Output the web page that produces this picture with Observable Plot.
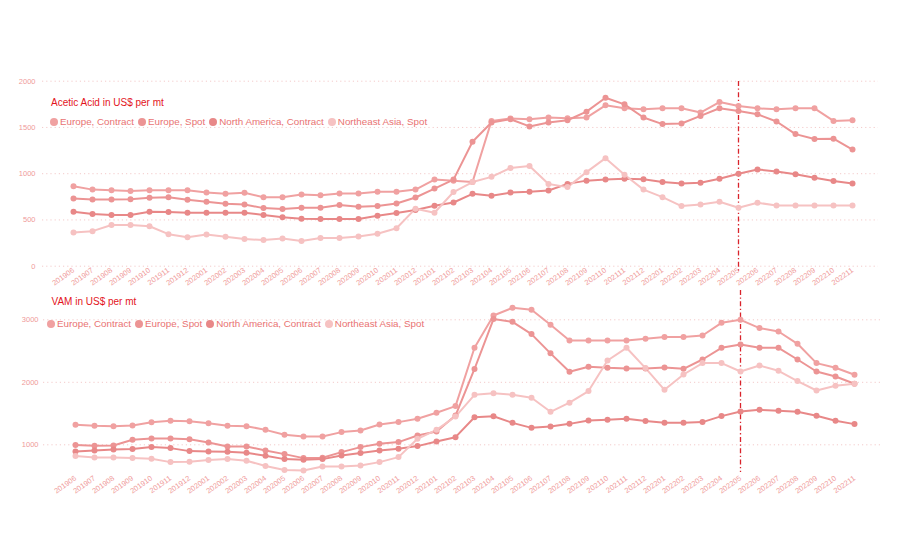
<!DOCTYPE html>
<html>
<head>
<meta charset="utf-8">
<script src="https://cdn.jsdelivr.net/npm/d3@7"></script>
<script src="https://cdn.jsdelivr.net/npm/@observablehq/plot@0.6"></script>
<style>
  body { margin: 0; background: #ffffff; }
  #wrap { position: relative; width: 900px; height: 550px; overflow: hidden; font-family: "Liberation Sans", Arial, sans-serif; }
  .chart { position: absolute; left: 0; }
  .title { position: absolute; font-size: 10px; line-height: 12px; color: #e3141c; white-space: nowrap; }
  .legend { position: absolute; display: flex; align-items: center; font-size: 9.8px; line-height: 12px; color: #e97272; white-space: nowrap; }
  .legend .item { display: flex; align-items: center; margin-right: 4px; }
  .legend .sw { width: 8px; height: 8px; border-radius: 50%; margin-right: 2px; }
</style>
</head>
<body>
<div id="wrap"></div>
<script>
// ---------- data ----------
const months = ["201906","201907","201908","201909","201910","201911","201912",
  "202001","202002","202003","202004","202005","202006","202007","202008","202009","202010","202011","202012",
  "202101","202102","202103","202104","202105","202106","202107","202108","202109","202110","202111","202112",
  "202201","202202","202203","202204","202205","202206","202207","202208","202209","202210","202211"];

const seriesNames = ["Europe, Contract", "Europe, Spot", "North America, Contract", "Northeast Asia, Spot"];
const seriesColors = ["#f0a1a1", "#ec9494", "#e88888", "#f6c2c2"];

const aceticTitle = "Acetic Acid in US$ per mt";
const aceticTicks = [0, 500, 1000, 1500, 2000];
const aceticEuropeContract = [865, 828, 821, 814, 821, 821, 821, 796, 782, 793, 746, 746, 775, 768,
  786, 786, 804, 804, 828, 936, 925, 911, 1571, 1596, 1589, 1607, 1600, 1607,
  1739, 1707, 1696, 1707, 1707, 1661, 1775, 1732, 1707, 1696, 1707, 1707, 1571, 1578];
const aceticEuropeSpot = [732, 721, 721, 725, 739, 746, 718, 696, 675, 668, 628, 618, 632, 632,
  661, 643, 650, 678, 743, 839, 936, 1346, 1553, 1589, 1511, 1553, 1578, 1671,
  1821, 1750, 1607, 1536, 1543, 1625, 1707, 1678, 1643, 1564, 1428, 1375, 1378, 1261];
const aceticNAContract = [589, 564, 553, 553, 589, 586, 579, 579, 579, 579, 553, 528, 514, 511,
  511, 511, 546, 575, 607, 653, 689, 782, 761, 796, 804, 818, 890, 925,
  936, 946, 939, 911, 893, 903, 946, 1000, 1046, 1025, 993, 957, 921, 893];
const aceticNEAsiaSpot = [365, 379, 446, 446, 432, 346, 314, 343, 318, 293, 282, 300, 272, 305,
  305, 321, 350, 411, 622, 578, 802, 910, 966, 1062, 1083, 888, 855, 1017,
  1168, 989, 828, 746, 650, 668, 696, 632, 686, 657, 657, 657, 657, 657];

const vamTitle = "VAM in US$ per mt";
const vamTicks = [1000, 2000, 3000];
const vamEuropeContract = [1319, 1303, 1298, 1309, 1362, 1383, 1378, 1346, 1303, 1298, 1239, 1160, 1133, 1133,
  1203, 1229, 1325, 1363, 1416, 1512, 1619, 2552, 3069, 3192, 3160, 2920, 2669, 2669,
  2669, 2669, 2696, 2723, 2723, 2749, 2952, 3000, 2867, 2813, 2616, 2307, 2232, 2120];
const vamEuropeSpot = [995, 984, 989, 1080, 1101, 1101, 1090, 1037, 973, 973, 910, 851, 787, 793,
  883, 963, 1016, 1043, 1149, 1213, 1468, 2213, 3011, 2968, 2771, 2463, 2170, 2250,
  2232, 2221, 2221, 2237, 2216, 2365, 2552, 2605, 2552, 2552, 2365, 2173, 2093, 1976];
const vamNAContract = [894, 910, 926, 931, 963, 947, 899, 894, 888, 872, 824, 771, 760, 771,
  830, 867, 910, 936, 979, 1053, 1122, 1441, 1457, 1351, 1271, 1293, 1335, 1388,
  1400, 1416, 1379, 1352, 1352, 1363, 1459, 1533, 1560, 1544, 1528, 1464, 1384, 1331];
const vamNEAsiaSpot = [819, 798, 798, 787, 777, 723, 729, 755, 771, 745, 660, 596, 590, 654,
  654, 670, 723, 803, 1096, 1239, 1452, 1800, 1826, 1800, 1752, 1528, 1674, 1860,
  2349, 2552, 2227, 1880, 2125, 2307, 2307, 2173, 2269, 2184, 2019, 1869, 1944, 1976];

const markerMonth = "202205";

// ---------- build ----------
function toRows(arrays) {
  const rows = [];
  arrays.forEach((vals, s) => vals.forEach((v, i) => rows.push({month: months[i], value: v, series: seriesNames[s]})));
  return rows;
}

const tickColor = "#ef9a9a";
const gridColor = "#f3caca";
const font = "'Liberation Sans', Arial, sans-serif";

function makeChart(rows, cfg) {
  return Plot.plot({
    width: 900,
    height: cfg.height,
    marginTop: cfg.marginTop,
    marginBottom: cfg.marginBottom,
    marginLeft: cfg.marginLeft,
    marginRight: cfg.marginRight,
    style: {fontFamily: font, color: tickColor, background: "transparent", overflow: "visible"},
    x: {type: "point", domain: months, range: cfg.xRange},
    y: {domain: cfg.yDomain, range: cfg.yRange},
    color: {domain: seriesNames, range: seriesColors},
    marks: [
      Plot.ruleY(cfg.ticks, {stroke: gridColor, strokeWidth: 1, strokeDasharray: "1.2,3"}),
      Plot.axisY({ticks: cfg.ticks, tickSize: 0, tickPadding: cfg.yPad, fontSize: 7.5, label: null, tickFormat: d => String(d)}),
      Plot.axisX({tickSize: 0, tickRotate: -35, fontSize: 7.5, label: null, tickPadding: cfg.xPad}),
      Plot.ruleX([markerMonth], {stroke: "#d9232b", strokeWidth: 1.3, strokeDasharray: "5,2.5,1.3,2.5", insetBottom: cfg.ruleInsetBottom}),
      Plot.line(rows, {x: "month", y: "value", z: "series", stroke: "series", strokeWidth: 2}),
      Plot.dot(rows, {x: "month", y: "value", fill: "series", r: 3})
    ]
  });
}

const wrap = document.getElementById("wrap");

const aceticChart = makeChart(toRows([aceticEuropeContract, aceticEuropeSpot, aceticNAContract, aceticNEAsiaSpot]), {
  height: 290, marginTop: 81, marginBottom: 22, marginLeft: 42, marginRight: 22,
  xRange: [50, 875], yDomain: [0, 2000], yRange: [265.7, 80.7], ticks: aceticTicks,
  yPad: 7, xPad: 1, ruleInsetBottom: -5
});
aceticChart.classList.add("chart");
aceticChart.style.top = "0px";
wrap.appendChild(aceticChart);

const vamChart = makeChart(toRows([vamEuropeContract, vamEuropeSpot, vamNAContract, vamNEAsiaSpot]), {
  height: 260, marginTop: 0, marginBottom: 78, marginLeft: 43, marginRight: 20,
  xRange: [53, 876], yDomain: [0, 3000], yRange: [216.8, 29.3], ticks: vamTicks,
  yPad: 5, xPad: 5, ruleInsetBottom: 0
});
vamChart.classList.add("chart");
vamChart.style.top = "290px";
wrap.appendChild(vamChart);

function addTitle(text, left, topPx) {
  const d = document.createElement("div");
  d.className = "title";
  d.textContent = text;
  d.style.left = left + "px";
  d.style.top = topPx + "px";
  wrap.appendChild(d);
}
function addLegend(left, topPx) {
  const d = document.createElement("div");
  d.className = "legend";
  d.style.left = left + "px";
  d.style.top = topPx + "px";
  seriesNames.forEach((n, i) => {
    const it = document.createElement("div");
    it.className = "item";
    const sw = document.createElement("span");
    sw.className = "sw";
    sw.style.background = seriesColors[i];
    const tx = document.createElement("span");
    tx.textContent = n;
    it.appendChild(sw);
    it.appendChild(tx);
    d.appendChild(it);
  });
  wrap.appendChild(d);
}
addTitle(aceticTitle, 51, 97);
addLegend(50, 116);
addTitle(vamTitle, 51.5, 295.5);
addLegend(47, 318);
</script>
</body>
</html>
